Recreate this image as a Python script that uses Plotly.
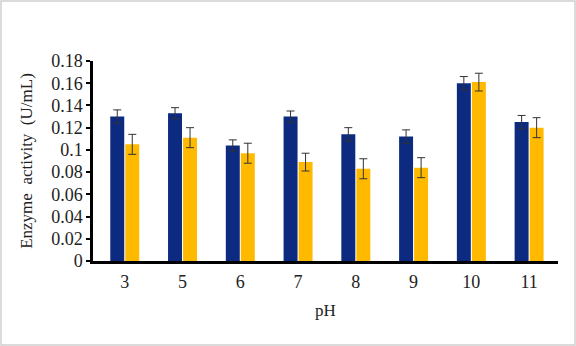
import plotly.graph_objects as go

ph_labels = ["3", "5", "6", "7", "8", "9", "10", "11"]
series1 = [0.130, 0.133, 0.104, 0.130, 0.114, 0.112, 0.160, 0.125]
series1_err = [0.006, 0.005, 0.005, 0.005, 0.006, 0.006, 0.006, 0.006]
series2 = [0.105, 0.111, 0.097, 0.089, 0.083, 0.084, 0.161, 0.120]
series2_err = [0.009, 0.009, 0.009, 0.008, 0.009, 0.009, 0.008, 0.009]

W, H = 576, 346
ML, MR, MT, MB = 93, 18, 61, 85

fig = go.Figure()
for vals, errs, col in [(series1, series1_err, "#0B2A80"), (series2, series2_err, "#FFBA00")]:
    fig.add_trace(go.Bar(
        x=ph_labels, y=vals, marker=dict(color=col, line=dict(width=0)),
        error_y=dict(type="data", array=errs, visible=True, color="#333333", thickness=1, width=4),
        showlegend=False,
    ))

pw = W - ML - MR
ph = H - MT - MB
fig.add_shape(type="rect", xref="paper", yref="paper",
              x0=(1 - ML) / pw, x1=(W - 1 - ML) / pw,
              y0=-(H - 1 - MT - ph) / ph, y1=(MT - 1) / ph + 1,
              line=dict(color="#D0D0D0", width=1.5), layer="below")

serif = "Liberation Serif, Times New Roman, serif"
fig.update_layout(
    width=W, height=H,
    margin=dict(l=ML, r=MR, t=MT, b=MB, autoexpand=False),
    paper_bgcolor="white", plot_bgcolor="white",
    barmode="group", bargap=0.48, bargroupgap=0.07,
    font=dict(family=serif, color="#222222", size=18),
    xaxis=dict(
        range=[-0.55, 7.5],
        showline=True, linecolor="black", linewidth=2.5, ticks="",
        tickfont=dict(size=18, family=serif), ticklabelstandoff=3,
        title=dict(text="pH", font=dict(size=17, family=serif), standoff=13),
    ),
    yaxis=dict(
        range=[0, 0.18], dtick=0.02, showgrid=False, zeroline=False,
        showline=True, linecolor="black", linewidth=2.5,
        ticks="outside", ticklen=4, tickwidth=1.5, tickcolor="black",
        tickfont=dict(size=18, family=serif),
        title=dict(text="Enzyme\u00a0\u00a0activity\u00a0\u00a0(U/mL)", font=dict(size=17, family=serif), standoff=15),
    ),
)

fig.write_html("out.html", post_script="document.body.style.margin='0';",
               config={"displayModeBar": False})
